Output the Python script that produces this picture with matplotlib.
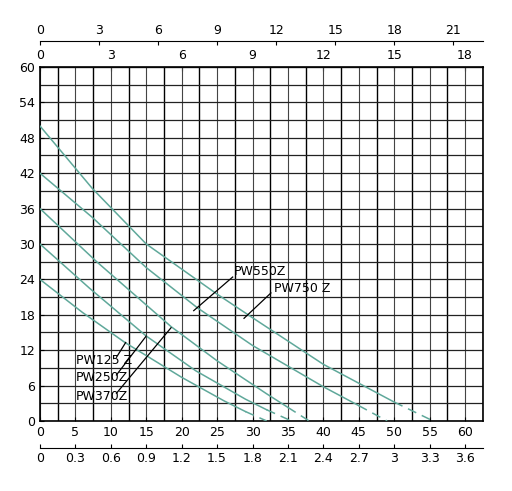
import numpy as np
import matplotlib
matplotlib.use('Agg')
import matplotlib.pyplot as plt

# curvas Q [l/min] -> H [m]
q750 = [0, 7.4, 15, 25, 30, 40, 50, 55.5]
h750 = [50, 39.4, 30, 21.5, 17.5, 9.6, 3.2, 0]
q550 = [0, 7.4, 15, 22.2, 30, 40, 45, 49]
h550 = [42, 34.5, 26, 19.2, 12.8, 5.8, 2.6, 0]
q370 = [0, 8, 18.5, 25, 32, 35, 38]
h370 = [36, 27, 16.0, 10.2, 4.6, 2.3, 0]
q250 = [0, 7, 15, 22, 29, 32, 35.5]
h250 = [30, 22.5, 14.4, 8.5, 3.7, 1.9, 0]
q125 = [0, 6, 12, 20, 26, 29, 32]
h125 = [24, 18.4, 13.3, 7.4, 3.4, 1.6, 0]
curvas = [(q750, h750), (q550, h550), (q370, h370), (q250, h250), (q125, h125)]

fuente = 'Liberation Sans Narrow'
plt.rcParams['font.family'] = [fuente, 'DejaVu Sans']
color = '#5fa89a'

fig = plt.figure(figsize=(5.12, 4.91), dpi=100)
ax = fig.add_axes([0.078, 0.1426, 0.865, 0.721])
ax.set_xlim(0, 62.5)
ax.set_ylim(0, 60)

# cuadricula
for i, xv in enumerate(np.arange(0, 62.6, 2.5)):
    ax.axvline(xv, color='black' if i % 2 else '#444444', lw=1.0 if i % 2 else 0.8, zorder=1)
for yv in np.arange(0, 61, 3):
    ax.axhline(yv, color='#222222', lw=0.9, zorder=1)

for q, h in curvas:
    ax.plot(q[:-1], h[:-1], color=color, lw=1.1, zorder=3)
    ax.plot(q[-2:], h[-2:], color=color, lw=1.1, ls=(0, (6, 4)), zorder=3)

# etiquetas
kw = dict(fontsize=9, zorder=5, va='center')
ax.text(27.4, 25.3, 'PW550Z', **kw)
ax.plot([21.7, 27.2], [18.7, 24.4], color='black', lw=0.9, zorder=4)
ax.text(33.0, 22.4, 'PW750 Z', **kw)
ax.plot([28.8, 32.6], [17.4, 21.7], color='black', lw=0.9, zorder=4)
for txt, ty, lx, lh in [('PW125 Z', 10.3, 12.1, 13.3),
                        ('PW250Z', 7.3, 15.0, 14.4),
                        ('PW370Z', 4.2, 18.5, 15.8)]:
    ax.text(5.1, ty, txt, **kw)
    ax.plot([10.8, lx], [ty + 0.5, lh], color='black', lw=0.9, zorder=4)

ax.set_yticks(np.arange(0, 61, 6))
ax.set_xticks(np.arange(0, 61, 5))
ax.tick_params(labelsize=9, length=3, direction='in')
for s in ax.spines.values():
    s.set_linewidth(1.2)

# ejes secundarios
ax2 = ax.secondary_xaxis(-0.075, functions=(lambda x: x * 0.06, lambda x: x / 0.06))
ax2.set_xticks(np.arange(0, 3.61, 0.3))
ax2.set_xticklabels(['0', '0.3', '0.6', '0.9', '1.2', '1.5', '1.8', '2.1', '2.4', '2.7', '3', '3.3', '3.6'])
ax2.tick_params(labelsize=9, length=3, direction='in')

ax3 = ax.secondary_xaxis('top', functions=(lambda x: x * 0.3, lambda x: x / 0.3))
ax3.set_xticks(np.arange(0, 19, 3))
ax3.tick_params(labelsize=9, length=3, direction='in')

ax4 = ax.secondary_xaxis(1.072, functions=(lambda x: x * 0.36, lambda x: x / 0.36))
ax4.set_xticks(np.arange(0, 22, 3))
ax4.tick_params(labelsize=9, length=3, direction='in')

fig.savefig('out.png', dpi=100)
